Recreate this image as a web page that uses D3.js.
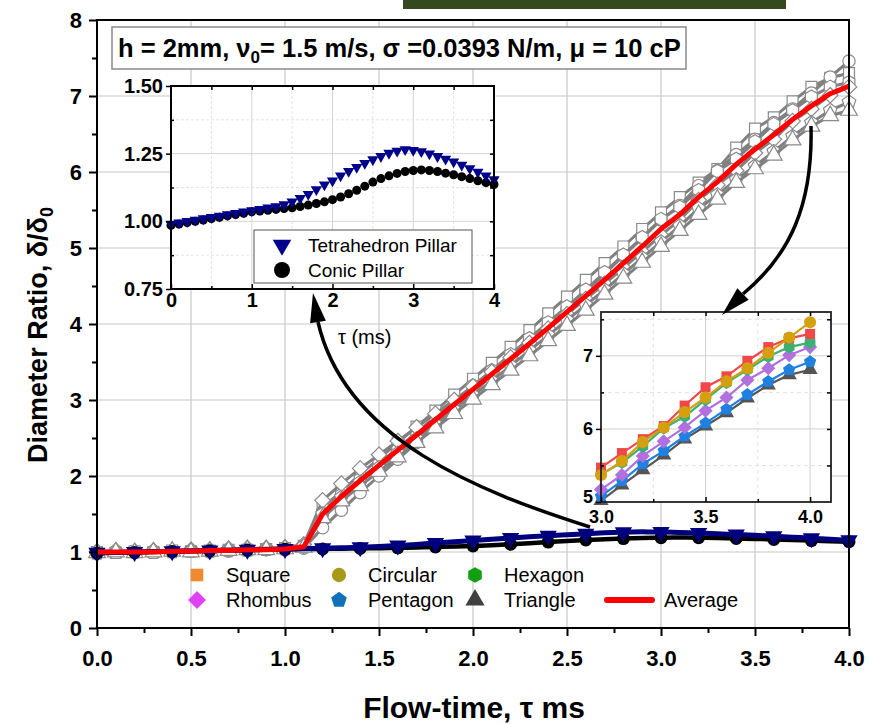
<!DOCTYPE html>
<html>
<head>
<meta charset="utf-8">
<script src="https://cdn.jsdelivr.net/npm/d3@7"></script>
<style>
  body { margin: 0; background: #fff; }
  text { font-family: "Liberation Sans", Arial, sans-serif; }
</style>
</head>
<body>
<script>
// flow time (ms), sampled every 0.1
const times = [0.0,0.1,0.2,0.3,0.4,0.5,0.6,0.7,0.8,0.9,1.0,1.1,1.2,1.3,1.4,1.5,1.6,1.7,1.8,1.9,2.0,
               2.1,2.2,2.3,2.4,2.5,2.6,2.7,2.8,2.9,3.0,3.1,3.2,3.3,3.4,3.5,3.6,3.7,3.8,3.9,4.0];

const square   = [1.00,0.99,1.01,1.00,1.02,1.01,1.02,1.03,1.03,1.04,1.05,1.08,1.58,1.80,2.02,2.23,2.44,2.65,2.86,3.07,3.28,
                  3.49,3.70,3.92,4.14,4.36,4.58,4.80,5.02,5.25,5.47,5.67,5.86,6.04,6.32,6.57,6.72,6.93,7.12,7.24,7.30];
const circular = [0.99,1.00,0.99,1.00,1.00,1.01,1.00,1.01,1.02,1.03,1.03,1.05,1.32,1.55,1.78,2.00,2.22,2.44,2.66,2.88,3.10,
                  3.32,3.54,3.76,3.98,4.20,4.43,4.66,4.90,5.13,5.37,5.56,5.82,6.02,6.23,6.43,6.65,6.83,7.04,7.25,7.46];
const hexagon  = [1.00,1.01,1.00,1.01,1.01,1.02,1.02,1.03,1.04,1.04,1.05,1.07,1.52,1.75,1.96,2.16,2.37,2.57,2.78,2.98,3.19,
                  3.39,3.60,3.81,4.02,4.23,4.45,4.68,4.91,5.14,5.38,5.54,5.76,6.01,6.17,6.40,6.63,6.81,6.99,7.12,7.18];
const rhombus  = [1.01,1.02,1.01,1.02,1.02,1.03,1.03,1.04,1.05,1.05,1.06,1.10,1.68,1.90,2.10,2.28,2.46,2.64,2.82,3.00,3.18,
                  3.37,3.56,3.75,3.94,4.13,4.33,4.53,4.74,4.95,5.17,5.37,5.63,5.83,6.02,6.25,6.43,6.67,6.83,7.01,7.12];
const pentagon = [0.98,0.99,1.00,0.99,1.00,1.01,1.01,1.02,1.02,1.03,1.04,1.08,1.50,1.72,1.92,2.11,2.30,2.49,2.68,2.87,3.06,
                  3.25,3.45,3.65,3.85,4.05,4.25,4.45,4.66,4.87,5.08,5.29,5.52,5.70,5.90,6.08,6.27,6.47,6.65,6.81,6.92];
const triangle = [0.99,1.00,0.99,1.00,1.01,1.00,1.01,1.02,1.03,1.03,1.04,1.06,1.45,1.67,1.87,2.06,2.25,2.44,2.63,2.82,3.01,
                  3.20,3.39,3.58,3.78,3.98,4.18,4.39,4.60,4.81,5.02,5.23,5.44,5.64,5.86,6.04,6.22,6.42,6.60,6.74,6.81];
const average  = [1.00,1.00,1.00,1.00,1.01,1.01,1.02,1.02,1.03,1.03,1.04,1.07,1.50,1.73,1.94,2.14,2.34,2.54,2.74,2.94,3.14,
                  3.34,3.54,3.74,3.95,4.16,4.37,4.58,4.80,5.02,5.25,5.44,5.67,5.87,6.10,6.30,6.49,6.69,6.87,7.03,7.13];

const tetrahedron = [0.990,0.995,1.000,1.005,1.010,1.015,1.020,1.025,1.030,1.035,1.040,1.045,1.050,1.055,1.062,1.072,1.085,
                     1.100,1.118,1.135,1.150,1.168,1.185,1.200,1.215,1.228,1.240,1.252,1.260,1.265,1.263,1.258,1.250,1.240,
                     1.230,1.220,1.208,1.195,1.182,1.168,1.155];
const conic = [0.985,0.990,0.995,1.000,1.005,1.010,1.015,1.020,1.025,1.030,1.035,1.038,1.041,1.044,1.047,1.050,1.055,1.060,
               1.066,1.072,1.080,1.090,1.102,1.115,1.130,1.145,1.158,1.168,1.177,1.184,1.188,1.190,1.188,1.184,1.178,1.172,
               1.165,1.158,1.150,1.143,1.136];

const shapeNames = ['Square','Circular','Hexagon','Rhombus','Pentagon','Triangle'];
const legendColors = ['#f08a30','#a89a18','#10a010','#e040f8','#1070b8','#404040'];
const zoomColors = ['#f04848','#d4a010','#3cb070','#b070e0','#2080e0','#555555'];

const xTicks = [0,0.5,1,1.5,2,2.5,3,3.5,4];
const yTicks = [0,1,2,3,4,5,6,7,8];
const inset1XTicks = [0,1,2,3,4];
const inset1YTicks = [0.75,1.00,1.25,1.50];
const inset2XTicks = [3.0,3.5,4.0];
const inset2YTicks = [5,6,7];

// custom polygon symbols
const polygon = (n, rot) => ({
  draw(ctx, size) {
    const r = Math.sqrt(size / (n * Math.sin(2 * Math.PI / n) / 2));
    for (let i = 0; i < n; i++) {
      const a = rot + i * 2 * Math.PI / n;
      const px = r * Math.sin(a), py = -r * Math.cos(a);
      i ? ctx.lineTo(px, py) : ctx.moveTo(px, py);
    }
    ctx.closePath();
  }
});
const symHex = polygon(6, 0);
const symPent = polygon(5, 0);
const symTriUp = polygon(3, 0);
const symTriDown = polygon(3, Math.PI);
const symRhomb = polygon(4, 0);
const symbols = [d3.symbolSquare, d3.symbolCircle, symHex, symRhomb, symPent, symTriUp];

const svg = d3.select('body').append('svg')
  .attr('width', 869)
  .attr('height', 724);

svg.append('rect').attr('x', 403).attr('y', 0).attr('width', 383).attr('height', 9).attr('fill', '#35491f');

// ---------- main chart ----------
const x = d3.scaleLinear().domain([0, 4]).range([97, 849]);
const y = d3.scaleLinear().domain([0, 8]).range([628, 20]);

const grid = svg.append('g');
grid.selectAll('.gx').data(xTicks.slice(1, -1)).enter().append('line')
  .attr('x1', d => x(d)).attr('x2', d => x(d)).attr('y1', y(0)).attr('y2', y(8))
  .attr('stroke', '#c8c8c8').attr('stroke-width', 1.2);
grid.selectAll('.gy').data(yTicks.slice(1, -1)).enter().append('line')
  .attr('x1', x(0)).attr('x2', x(4)).attr('y1', d => y(d)).attr('y2', d => y(d))
  .attr('stroke', '#c8c8c8').attr('stroke-width', 1.2);

const shapeSeries = [square, circular, hexagon, rhombus, pentagon, triangle];
const line = d3.line().x(d => x(d[0])).y(d => y(d[1]));

shapeSeries.forEach((s, k) => {
  const pts = times.map((t, i) => [t, s[i]]);
  svg.append('path').datum(pts).attr('d', line)
    .attr('fill', 'none').attr('stroke', '#808080').attr('stroke-width', 3);
  svg.selectAll('.m' + k).data(pts).enter().append('path')
    .attr('transform', d => `translate(${x(d[0])},${y(d[1])})`)
    .attr('d', d3.symbol(symbols[k], 120))
    .attr('fill', '#fff').attr('stroke', '#8a8a8a').attr('stroke-width', 1.2);
});

const conicPts = times.map((t, i) => [t, conic[i]]);
const tetraPts = times.map((t, i) => [t, tetrahedron[i]]);
svg.append('path').datum(conicPts).attr('d', line.curve(d3.curveMonotoneX))
  .attr('fill', 'none').attr('stroke', '#000').attr('stroke-width', 4.5);
svg.selectAll('.mc').data(conicPts.filter((d, i) => i % 2 === 0)).enter().append('circle')
  .attr('cx', d => x(d[0])).attr('cy', d => y(d[1])).attr('r', 6.5).attr('fill', '#000');
svg.append('path').datum(tetraPts).attr('d', line)
  .attr('fill', 'none').attr('stroke', '#00007f').attr('stroke-width', 5);
svg.selectAll('.mt').data(tetraPts.filter((d, i) => i % 2 === 0)).enter().append('path')
  .attr('transform', d => `translate(${x(d[0])},${y(d[1])})`)
  .attr('d', d3.symbol(symTriDown, 130)).attr('fill', '#00007f');

svg.append('path').datum(times.map((t, i) => [t, average[i]]))
  .attr('d', d3.line().x(d => x(d[0])).y(d => y(d[1])))
  .attr('fill', 'none').attr('stroke', '#ff0000').attr('stroke-width', 5).attr('stroke-linejoin', 'round');

// frame + axes
svg.append('rect').attr('x', x(0)).attr('y', y(8)).attr('width', x(4) - x(0)).attr('height', y(0) - y(8))
  .attr('fill', 'none').attr('stroke', '#000').attr('stroke-width', 2);

const xAxisGroup = svg.append('g').attr('transform', `translate(0,${y(0)})`)
  .call(d3.axisBottom(x).tickValues(xTicks).tickFormat(d3.format('.1f')).tickSize(8).tickPadding(14));
svg.append('g').attr('transform', `translate(0,${y(0)})`)
  .call(d3.axisBottom(x).tickValues([0.25,0.75,1.25,1.75,2.25,2.75,3.25,3.75]).tickFormat('').tickSize(5));
const yAxisGroup = svg.append('g').attr('transform', `translate(${x(0)},0)`)
  .call(d3.axisLeft(y).tickValues(yTicks).tickFormat(d3.format('d')).tickSize(8).tickPadding(7));
svg.append('g').attr('transform', `translate(${x(0)},0)`)
  .call(d3.axisLeft(y).tickValues([0.5,1.5,2.5,3.5,4.5,5.5,6.5,7.5]).tickFormat('').tickSize(5));
svg.selectAll('.domain').remove();
svg.selectAll('.tick line').attr('stroke-width', 2);
xAxisGroup.selectAll('text').attr('font-size', 22).attr('font-weight', 'bold').attr('fill', '#000');
yAxisGroup.selectAll('text').attr('font-size', 22).attr('font-weight', 'bold').attr('fill', '#000');

svg.append('text').attr('x', 474).attr('y', 718).attr('text-anchor', 'middle')
  .attr('font-size', 30).attr('font-weight', 'bold').text('Flow-time, τ ms');
const yl = svg.append('text').attr('transform', 'translate(47,335) rotate(-90)').attr('text-anchor', 'middle')
  .attr('font-size', 27).attr('font-weight', 'bold');
yl.append('tspan').text('Diameter Ratio, δ/δ');
yl.append('tspan').attr('font-size', 18).attr('dy', 6).text('0');

// parameters box
svg.append('rect').attr('x', 112).attr('y', 27).attr('width', 574).attr('height', 42)
  .attr('fill', '#fff').attr('stroke', '#8a8a8a').attr('stroke-width', 1.5);
const ann = svg.append('text').attr('x', 118).attr('y', 57).attr('font-size', 25.5).attr('font-weight', 'bold');
ann.append('tspan').text('h = 2mm, ν');
ann.append('tspan').attr('font-size', 17).attr('dy', 6).text('0');
ann.append('tspan').attr('dy', -6).text('= 1.5 m/s, σ =0.0393 N/m, μ = 10 cP');

// legend
const legendRows = [[0, 1, 2], [3, 4, 5]];
const legCols = [197, 339, 475];
legendRows.forEach((row, r) => {
  row.forEach((k, c) => {
    const ly = 575 + r * 25;
    svg.append('path').attr('transform', `translate(${legCols[c]},${ly})`)
      .attr('d', d3.symbol(symbols[k], 160)).attr('fill', legendColors[k]);
    svg.append('text').attr('x', legCols[c] + 29).attr('y', ly + 7)
      .attr('font-size', 20).text(shapeNames[k]);
  });
});
svg.append('line').attr('x1', 607).attr('x2', 652).attr('y1', 600).attr('y2', 600)
  .attr('stroke', '#ff0000').attr('stroke-width', 6).attr('stroke-linecap', 'round');
svg.append('text').attr('x', 664).attr('y', 607).attr('font-size', 20).text('Average');

// ---------- inset 1 (pillars) ----------
const xi = d3.scaleLinear().domain([0, 4]).range([171, 494]);
const yi = d3.scaleLinear().domain([0.75, 1.5]).range([289, 86]);
const in1 = svg.append('g');
in1.append('rect').attr('x', xi(0)).attr('y', yi(1.5)).attr('width', xi(4) - xi(0)).attr('height', yi(0.75) - yi(1.5))
  .attr('fill', '#fff');
in1.selectAll('.gx').data([0.5,1,1.5,2,2.5,3,3.5]).enter().append('line')
  .attr('x1', d => xi(d)).attr('x2', d => xi(d)).attr('y1', yi(0.75)).attr('y2', yi(1.5))
  .attr('stroke', d => d % 1 ? '#e4e4e4' : '#d4d4d4').attr('stroke-dasharray', d => d % 1 ? '3,2' : null);
in1.selectAll('.gy').data([0.875,1,1.125,1.25,1.375]).enter().append('line')
  .attr('x1', xi(0)).attr('x2', xi(4)).attr('y1', d => yi(d)).attr('y2', d => yi(d))
  .attr('stroke', d => (d * 4) % 1 ? '#e4e4e4' : '#d4d4d4').attr('stroke-dasharray', d => (d * 4) % 1 ? '3,2' : null);
in1.selectAll('.ic').data(conicPts).enter().append('circle')
  .attr('cx', d => xi(d[0])).attr('cy', d => yi(d[1])).attr('r', 4.5).attr('fill', '#000');
in1.selectAll('.it').data(tetraPts).enter().append('path')
  .attr('transform', d => `translate(${xi(d[0])},${yi(d[1])})`)
  .attr('d', d3.symbol(symTriDown, 55)).attr('fill', '#00008b');
in1.append('rect').attr('x', xi(0)).attr('y', yi(1.5)).attr('width', xi(4) - xi(0)).attr('height', yi(0.75) - yi(1.5))
  .attr('fill', 'none').attr('stroke', '#000').attr('stroke-width', 2);
const i1x = in1.append('g').attr('transform', `translate(0,${yi(0.75)})`)
  .call(d3.axisBottom(xi).tickValues(inset1XTicks).tickFormat(d3.format('d')).tickSize(-5).tickPadding(4));
in1.append('g').attr('transform', `translate(0,${yi(0.75)})`)
  .call(d3.axisBottom(xi).tickValues([0.5,1.5,2.5,3.5]).tickFormat('').tickSize(-3));
in1.append('g').attr('transform', `translate(0,${yi(1.5)})`)
  .call(d3.axisTop(xi).tickValues([0.5,1,1.5,2,2.5,3,3.5]).tickFormat('').tickSize(-4));
const i1y = in1.append('g').attr('transform', `translate(${xi(0)},0)`)
  .call(d3.axisLeft(yi).tickValues(inset1YTicks).tickFormat(d3.format('.2f')).tickSize(5).tickPadding(3));
in1.append('g').attr('transform', `translate(${xi(0)},0)`)
  .call(d3.axisLeft(yi).tickValues([0.875,1.125,1.375]).tickFormat('').tickSize(-3));
in1.append('g').attr('transform', `translate(${xi(4)},0)`)
  .call(d3.axisRight(yi).tickValues([0.875,1,1.125,1.25,1.375]).tickFormat('').tickSize(-4));
in1.selectAll('.domain').remove();
in1.selectAll('.tick line').attr('stroke-width', 1.5);
i1x.selectAll('text').attr('font-size', 20).attr('font-weight', 'bold').attr('fill', '#000');
i1y.selectAll('text').attr('font-size', 20).attr('font-weight', 'bold').attr('fill', '#000');
svg.append('text').attr('x', 338).attr('y', 344).attr('font-size', 20).text('τ (ms)');

// inset 1 legend
in1.append('rect').attr('x', 254).attr('y', 230).attr('width', 218).attr('height', 53)
  .attr('fill', '#fff').attr('stroke', '#555').attr('stroke-width', 1);
in1.append('path').attr('transform', 'translate(282,245)').attr('d', d3.symbol(symTriDown, 150)).attr('fill', '#00008b');
in1.append('text').attr('x', 308).attr('y', 252).attr('font-size', 19).text('Tetrahedron Pillar');
in1.append('circle').attr('cx', 282).attr('cy', 270).attr('r', 8).attr('fill', '#000');
in1.append('text').attr('x', 308).attr('y', 277).attr('font-size', 19).text('Conic Pillar');

// ---------- inset 2 (zoom on 3-4 ms) ----------
const zoomTimes = times.slice(30);
const x2 = d3.scaleLinear().domain([3.0, 4.1]).range([601, 831]);
const y2 = d3.scaleLinear().domain([5, 7.6]).range([502, 312]);
const in2 = svg.append('g');
in2.append('rect').attr('x', x2(3)).attr('y', y2(7.6)).attr('width', x2(4.1) - x2(3)).attr('height', y2(5) - y2(7.6))
  .attr('fill', '#fff');
in2.selectAll('.gx').data([3.25,3.5,3.75,4.0]).enter().append('line')
  .attr('x1', d => x2(d)).attr('x2', d => x2(d)).attr('y1', y2(5)).attr('y2', y2(7.6))
  .attr('stroke', d => (d * 2) % 1 ? '#e2e2e2' : '#d0d0d0').attr('stroke-dasharray', d => (d * 2) % 1 ? '4,3' : null);
in2.selectAll('.gy').data([5.5,6,6.5,7,7.5]).enter().append('line')
  .attr('x1', x2(3)).attr('x2', x2(4.1)).attr('y1', d => y2(d)).attr('y2', d => y2(d))
  .attr('stroke', d => d % 1 ? '#e2e2e2' : '#d0d0d0').attr('stroke-dasharray', d => d % 1 ? '4,3' : null);

const zLine = d3.line().x(d => x2(d[0])).y(d => y2(d[1]));
[5, 4, 3, 2, 0, 1].forEach(k => {
  const pts = zoomTimes.map((t, i) => [t, shapeSeries[k][30 + i]]);
  in2.append('path').datum(pts).attr('d', zLine)
    .attr('fill', 'none').attr('stroke', zoomColors[k]).attr('stroke-width', 2.2);
  in2.selectAll('.z' + k).data(pts).enter().append('path')
    .attr('transform', d => `translate(${x2(d[0])},${y2(d[1])})`)
    .attr('d', d3.symbol(symbols[k], k === 1 ? 115 : 100)).attr('fill', zoomColors[k]);
});
in2.append('rect').attr('x', x2(3)).attr('y', y2(7.6)).attr('width', x2(4.1) - x2(3)).attr('height', y2(5) - y2(7.6))
  .attr('fill', 'none').attr('stroke', '#222').attr('stroke-width', 1.8);
const i2x = in2.append('g').attr('transform', `translate(0,${y2(5)})`)
  .call(d3.axisBottom(x2).tickValues(inset2XTicks).tickFormat(d3.format('.1f')).tickSize(-5).tickPadding(8));
in2.append('g').attr('transform', `translate(0,${y2(5)})`)
  .call(d3.axisBottom(x2).tickValues([3.25,3.75]).tickFormat('').tickSize(-3));
in2.append('g').attr('transform', `translate(0,${y2(7.6)})`)
  .call(d3.axisTop(x2).tickValues([3.25,3.5,3.75,4.0]).tickFormat('').tickSize(-4));
const i2y = in2.append('g').attr('transform', `translate(${x2(3)},0)`)
  .call(d3.axisLeft(y2).tickValues(inset2YTicks).tickFormat(d3.format('d')).tickSize(5).tickPadding(3));
in2.append('g').attr('transform', `translate(${x2(3)},0)`)
  .call(d3.axisLeft(y2).tickValues([5.5,6.5,7.5]).tickFormat('').tickSize(-3));
in2.append('g').attr('transform', `translate(${x2(4.1)},0)`)
  .call(d3.axisRight(y2).tickValues([5.5,6,6.5,7,7.5]).tickFormat('').tickSize(-4));
in2.selectAll('.domain').remove();
in2.selectAll('.tick line').attr('stroke-width', 1.5);
i2x.selectAll('text').attr('font-size', 18).attr('font-weight', 'bold').attr('fill', '#000');
i2y.selectAll('text').attr('font-size', 18).attr('font-weight', 'bold').attr('fill', '#000')
  .attr('dy', d => d === 5 ? '0.05em' : '0.32em');

// ---------- curved arrows ----------
function arrow(p0, c1, c2, base, tip) {
  const p = d3.path();
  p.moveTo(p0[0], p0[1]);
  p.bezierCurveTo(c1[0], c1[1], c2[0], c2[1], base[0], base[1]);
  svg.append('path').attr('d', p.toString()).attr('fill', 'none').attr('stroke', '#000').attr('stroke-width', 3.5);
  const dx = tip[0] - base[0], dy = tip[1] - base[1], L = Math.hypot(dx, dy);
  const nx = -dy / L * 8, ny = dx / L * 8;
  svg.append('path')
    .attr('d', `M${tip[0]},${tip[1]}L${base[0] + nx},${base[1] + ny}L${base[0] - nx},${base[1] - ny}Z`)
    .attr('fill', '#000');
}
arrow([590, 527], [480, 492], [345, 440], [318, 322], [313, 293]);
arrow([811, 126], [813, 205], [790, 255], [743, 294], [722, 315]);
</script>
</body>
</html>
